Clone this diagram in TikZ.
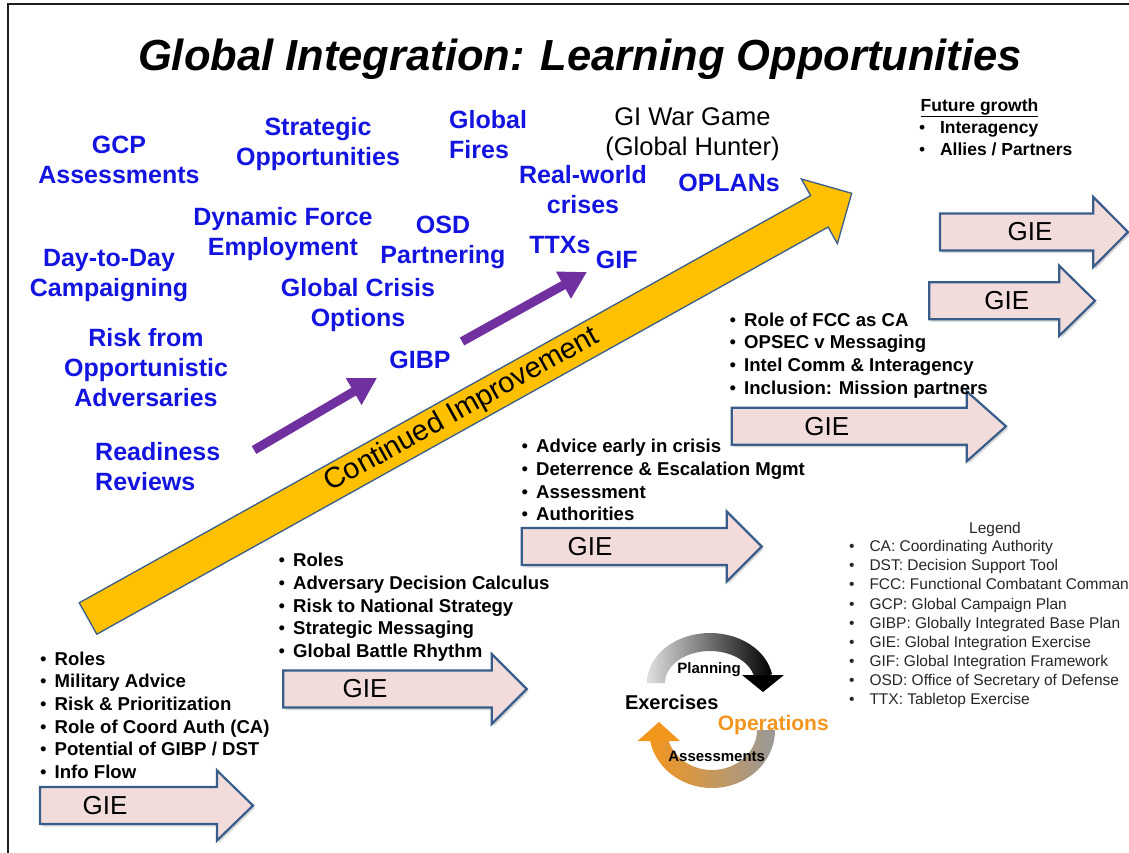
\documentclass[tikz,border=0pt]{standalone}
\usepackage{fontspec}
\setmainfont{Liberation Sans}
\usetikzlibrary{arrows.meta,calc,shadows}
\definecolor{GIBlue}{RGB}{20,20,225}
\definecolor{GIGold}{RGB}{255,192,0}
\definecolor{GIPurple}{RGB}{112,48,160}
\definecolor{GIPink}{RGB}{242,220,219}
\definecolor{GIEdge}{RGB}{56,93,138}
\definecolor{GIOrange}{RGB}{243,150,30}
\definecolor{GIFrame}{RGB}{30,30,30}
\definecolor{GILegend}{RGB}{38,38,38}
\newcommand\Bul[1][14.5pt]{\makebox[#1][l]{\mdseries\textbullet}}
\newcommand\GIEArrow[6]{%
    \draw[giearrow] (#2,#3-18.5) -- (#4,#3-18.5) -- (#4,#3-35) -- (#5,#3)
        -- (#4,#3+35) -- (#4,#3+18.5) -- (#2,#3+18.5) -- cycle;
    \node[gielabel] (#1) at (#6,#3) {GIE};
}

\begin{document}
\begin{tikzpicture}[x=1pt, y=-1pt,
    opp/.style={font=\bfseries\fontsize{25}{30}\selectfont, text=GIBlue, align=center, inner sep=0pt, anchor=base},
    bullets/.style={font=\bfseries\fontsize{18.6}{22.7}\selectfont, align=left, inner sep=0pt, anchor=base west},
    giearrow/.style={draw=GIEdge, line width=2.2pt, fill=GIPink,
        drop shadow={shadow xshift=2pt, shadow yshift=-2.5pt, opacity=0.3}},
    gielabel/.style={font=\fontsize{26}{26}\selectfont, inner sep=0pt},
    cyclab/.style={font=\bfseries\fontsize{15}{15}\selectfont, inner sep=0pt, anchor=base},
    purplearrow/.style={GIPurple, line width=9pt, -{Triangle[width=29pt,length=27pt]}}]
    \useasboundingbox (0,0) rectangle (1129,852);
    \clip (0,0) rectangle (1129,852);
    \draw[line width=2pt, GIFrame] (7.5,4) rectangle (1160,880);
    \node[font=\bfseries\itshape\fontsize{43.5}{44}\selectfont, inner sep=0pt, anchor=base] (title) at (580,70)
        {Global Integration: Learning Opportunities};

    % continued improvement
    \coordinate (CITail) at (88,618.5);
    \coordinate (CITip) at (851.7,193.3);
    \coordinate (CIBase) at ($(CITip)!37pt!(CITail)$);
    \draw[GIEdge, line width=1.3pt, fill=GIGold]
        ($(CITail)!18pt!90:(CITip)$) -- ($(CIBase)!18pt!90:(CITip)$) -- ($(CIBase)!37pt!90:(CITip)$)
        -- (CITip) -- ($(CIBase)!37pt!-90:(CITip)$) -- ($(CIBase)!18pt!-90:(CITip)$)
        -- ($(CITail)!18pt!-90:(CITip)$) -- cycle;
    \path (CITail) -- (CITip) node[pos=0.49, sloped, font=\fontsize{29}{29}\selectfont, inner sep=0pt] (CILabel)
        {Continued Improvement};

    \coordinate (RRTail) at (254,450);
    \coordinate (GIBPTip) at (377,378);
    \coordinate (GIBPTail) at (462,341.5);
    \coordinate (GIFTip) at (587,272);
    \draw[purplearrow] (RRTail) -- (GIBPTip);
    \draw[purplearrow] (GIBPTail) -- (GIFTip);

    % learning opportunities (anchored at the last line)
    \node[opp] (gcp) at (119,183) {GCP\\Assessments};
    \node[opp] (strat) at (318,165) {Strategic\\Opportunities};
    \node[opp, align=left, anchor=base west] (fires) at (449,158.3) {Global\\Fires};
    \node[opp, text=black, font=\fontsize{25.5}{30}\selectfont] (wargame) at (692.5,155) {GI War Game\\(Global Hunter)};
    \node[opp] (crises) at (583,213.3) {Real-world\\crises};
    \node[opp] (oplans) at (729,191.7) {OPLANs};
    \node[opp] (ttxs) at (560,253.3) {TTXs};
    \node[opp] (gif) at (616.7,268.3) {GIF};
    \node[opp] (dfe) at (283,255) {Dynamic Force\\Employment};
    \node[opp] (osd) at (443,263.3) {OSD\\Partnering};
    \node[opp] (daytoday) at (109,296.7) {Day-to-Day\\Campaigning};
    \node[opp] (gco) at (358,326.7) {Global Crisis\\Options};
    \node[opp] (risk) at (146,406.7) {Risk from\\Opportunistic\\Adversaries};
    \node[opp] (gibp) at (420,368.3) {GIBP};
    \node[opp, align=left, anchor=base west] (ready) at (95,490) {Readiness\\Reviews};

    % exercises
    \GIEArrow{gieA}{40}{805.5}{217}{253}{105}
    \GIEArrow{gieB}{283.3}{689}{491.7}{526.7}{365}
    \GIEArrow{gieC}{521.7}{546.5}{726.7}{761.7}{590}
    \GIEArrow{gieD}{731.7}{426.3}{966.7}{1006}{826.7}
    \GIEArrow{gieE}{940}{232}{1093.3}{1128}{1030}
    \GIEArrow{gieF}{929.3}{300.8}{1059.3}{1095}{1006.7}

    \node[bullets] (listA) at (40,778.5) {\Bul Roles\\\Bul Military Advice\\\Bul Risk \& Prioritization\\
        \Bul Role of Coord Auth (CA)\\\Bul Potential of GIBP / DST\\\Bul Info Flow};
    \node[bullets] (listB) at (278.5,657.5) {\Bul Roles\\\Bul Adversary Decision Calculus\\
        \Bul Risk to National Strategy\\\Bul Strategic Messaging\\\Bul Global Battle Rhythm};
    \node[bullets] (listC) at (521.5,520.8) {\Bul Advice early in crisis\\\Bul Deterrence \& Escalation Mgmt\\
        \Bul Assessment\\\Bul Authorities};
    \node[bullets] (listD) at (729.5,394.1) {\Bul Role of FCC as CA\\\Bul OPSEC v Messaging\\
        \Bul Intel Comm \& Interagency\\\Bul Inclusion: Mission partners};
    \node[bullets, font=\bfseries\fontsize{17.5}{22.3}\selectfont] (future) at (919,155.6)
        {\hspace{1.5pt}\underline{Future growth}\\\Bul[16pt] Interagency\\\Bul[16pt] Allies / Partners};

    % legend
    \node[font=\fontsize{15.5}{19.1}\selectfont, text=GILegend, inner sep=0pt, anchor=base] (legendhead) at (995,533.3) {Legend};
    \node[font=\fontsize{15.5}{19.1}\selectfont, text=GILegend, align=left, inner sep=0pt, anchor=base west] (legend) at (849,704.5)
        {\Bul[16pt] CA: Coordinating Authority\\\Bul[16pt] DST: Decision Support Tool\\
        \Bul[16pt] FCC: Functional Combatant Command\\\Bul[16pt] GCP: Global Campaign Plan\\
        \Bul[16pt] GIBP: Globally Integrated Base Plan\\\Bul[16pt] GIE: Global Integration Exercise\\
        \Bul[16pt] GIF: Global Integration Framework\\\Bul[16pt] OSD: Office of Secretary of Defense\\
        \Bul[16pt] TTX: Tabletop Exercise};

    % cycle
    \coordinate (CycTop) at (710,683);
    \coordinate (CycBot) at (712,730);
    \shade[left color=gray!25, right color=black] ($(CycTop)+(-180:63 and 50)$)
        arc[start angle=-180, end angle=-10, x radius=63, y radius=50]
        -- ($(CycTop)+(-10:45 and 32)$) arc[start angle=-10, end angle=-180, x radius=45, y radius=32] -- cycle;
    \fill[black] (742,675) -- (784,675) -- (763,692) -- cycle;
    \shade[left color=GIOrange, right color=gray!80] ($(CycBot)+(0:63 and 58)$)
        arc[start angle=0, end angle=170, x radius=63, y radius=58]
        -- ($(CycBot)+(170:45 and 40)$) arc[start angle=170, end angle=0, x radius=45, y radius=40] -- cycle;
    \fill[GIOrange] (637.5,741) -- (680,741) -- (659,722) -- cycle;
    \node[cyclab] (planning) at (709,673.5) {Planning};
    \node[cyclab, font=\bfseries\fontsize{20}{20}\selectfont] (exercises) at (671.7,709.5) {Exercises};
    \node[cyclab, font=\bfseries\fontsize{21}{21}\selectfont, text=GIOrange] (operations) at (773.3,730) {Operations};
    \node[cyclab] (assess) at (716.7,761) {Assessments};
\end{tikzpicture}
\end{document}
